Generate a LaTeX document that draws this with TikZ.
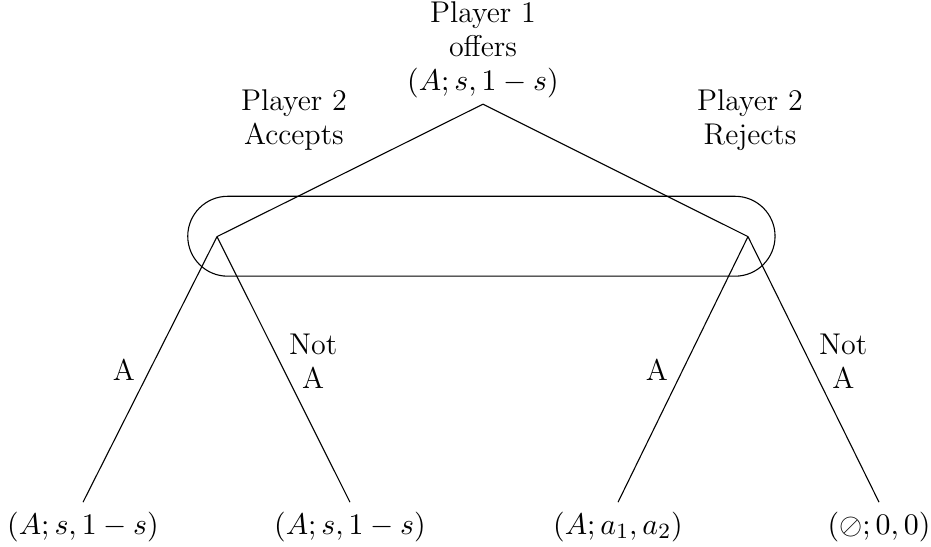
\documentclass[tikz,border=0pt]{standalone}
\usepackage{amssymb}
\usetikzlibrary{calc}

\begin{document}
\begin{tikzpicture}[every node/.style={align=center,font=\fontsize{11}{12.5}\selectfont},leaf/.style={anchor=north}]
\useasboundingbox (0,0) rectangle (12,7.04);
% information set of player 2
\draw[rounded corners=0.515cm] (2.42,3.48) rectangle (9.99,4.51);
\node[anchor=south,inner sep=2pt] (root) at (6.225,5.697) {Player 1\\offers\\$(A;s,1-s)$};
\coordinate (acc) at (2.797,3.99);
\coordinate (rej) at (9.641,3.99);
\node (acclab) at (3.789,5.491) {Player 2\\Accepts};
\node (rejlab) at (9.667,5.491) {Player 2\\Rejects};
\node[leaf] (accA) at (1.07,0.567) {$(A;s,1-s)$};
\node[leaf] (accN) at (4.511,0.567) {$(A;s,1-s)$};
\node[leaf] (rejA) at (7.966,0.567) {$(A;a_1,a_2)$};
\node[leaf] (rejN) at (11.33,0.567) {$(\mathord{\oslash};0,0)$};
\draw (root.south) -- (acc);
\draw (root.south) -- (rej);
\draw (acc) -- node[left=2pt]{A} (accA.north);
\draw (acc) -- node[pos=0.47,right=0pt]{Not\\A} (accN.north);
\draw (rej) -- node[left=2pt]{A} (rejA.north);
\draw (rej) -- node[pos=0.47,right=0pt]{Not\\A} (rejN.north);
\end{tikzpicture}
\end{document}
